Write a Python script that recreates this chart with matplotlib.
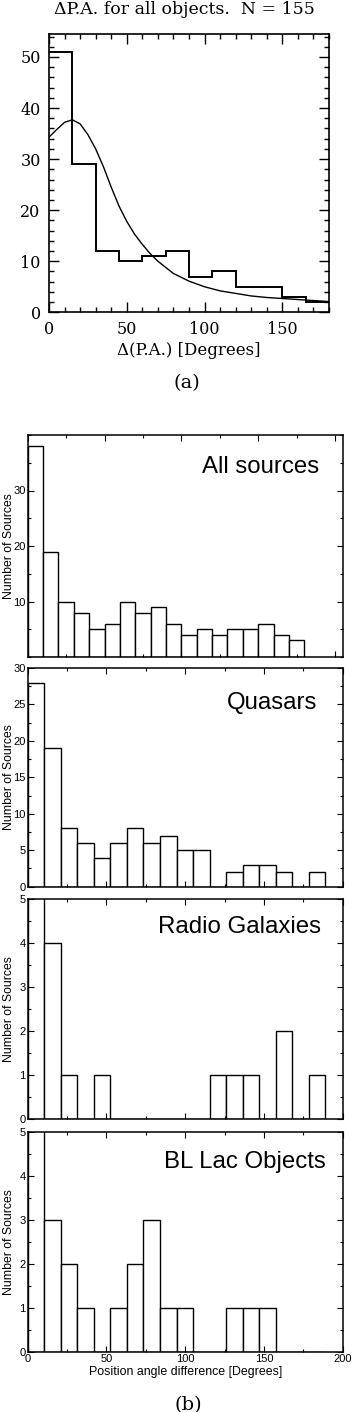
import numpy as np
import matplotlib
matplotlib.use("Agg")
import matplotlib.pyplot as plt
from matplotlib.ticker import MultipleLocator

# ---- panel (a): all objects, 15 degree bins + model curve
pa_edges = [0, 15, 30, 45, 60, 75, 90, 105, 120, 135, 150, 165, 180]
pa_counts = [51, 29, 12, 10, 11, 12, 7, 8, 5, 5, 3, 2]
curve_x = [0, 5, 10, 15, 20, 25, 30, 35, 40, 45, 50, 55, 60, 65, 70,
           80, 90, 100, 110, 120, 130, 140, 150, 160, 170, 180]
curve_y = [34.3, 35.8, 37.2, 37.7, 36.9, 34.8, 32.0, 28.5, 24.5, 20.8, 17.8,
           15.3, 13.3, 11.5, 10.0, 7.6, 6.1, 5.0, 4.2, 3.7, 3.2, 2.9, 2.7,
           2.5, 2.3, 2.1]

# ---- panel (b): number of sources per bin
all_width = 10
all_counts = [38, 19, 10, 8, 5, 6, 10, 8, 9, 6, 4, 5, 4, 5, 5, 6, 4, 3]
class_width = 10.5
quasar_counts = [28, 19, 8, 6, 4, 6, 8, 6, 7, 5, 5, 0, 2, 3, 3, 2, 0, 2]
# first bins of the two small classes run off the top of the plot
radio_counts = [6, 4, 1, 0, 1, 0, 0, 0, 0, 0, 0, 1, 1, 1, 0, 2, 0, 1]
bllac_counts = [6, 3, 2, 1, 0, 1, 2, 3, 1, 1, 0, 0, 1, 1, 1, 0, 0, 0]

W, H = 352, 1412
fig = plt.figure(figsize=(W / 100, H / 100), dpi=100)

serif = "DejaVu Serif"
sans = "Liberation Sans"

# ---------------- panel (a)
axa = fig.add_axes([49 / W, 1 - 312.3 / H, 280 / W, 278.3 / H])
axa.stairs(pa_counts, pa_edges, baseline=None, color="k", lw=1.4)
axa.plot(curve_x, curve_y, color="k", lw=1.0)
axa.set_xlim(0, 180)
axa.set_ylim(0, 54.5)
axa.xaxis.set_major_locator(MultipleLocator(50))
axa.xaxis.set_minor_locator(MultipleLocator(10))
axa.yaxis.set_major_locator(MultipleLocator(10))
axa.yaxis.set_minor_locator(MultipleLocator(2))
axa.tick_params(which="both", direction="in", top=True, right=True, width=1.0)
axa.tick_params(which="major", length=7, labelsize=11.5, pad=6)
axa.tick_params(which="minor", length=3.5)
for lab in axa.get_xticklabels() + axa.get_yticklabels():
    lab.set_family(serif)
for s in axa.spines.values():
    s.set_linewidth(1.2)
axa.set_xlabel("\u0394(P.A.) [Degrees]", family=serif, fontsize=12, labelpad=3)
fig.text(184 / W, 1 - 9 / H, "\u0394P.A. for all objects.  N = 155",
         family=serif, fontsize=12.5, ha="center", va="center")
fig.text(187 / W, 1 - 382.7 / H, "(a)", family=serif, fontsize=14,
         ha="center", va="center")

# ---------------- panel (b)
panels = [
    ("All sources", all_counts, all_width, (435, 657), 40, 205, 10, 5, (0.925, 0.905)),
    ("Quasars", quasar_counts, class_width, (668, 886.7), 30, 200, 5, 2.5, (0.919, 0.892)),
    ("Radio Galaxies", radio_counts, class_width, (899, 1119), 5, 200, 1, 0.5, (0.931, 0.923)),
    ("BL Lac Objects", bllac_counts, class_width, (1131.7, 1352.3), 5, 200, 1, 0.5, (0.945, 0.912)),
]

for i, (name, counts, width, (top, bot), ymax, xmax, ymaj, ymin, tpos) in enumerate(panels):
    ax = fig.add_axes([27.7 / W, 1 - bot / H, 315 / W, (bot - top) / H])
    left = np.arange(len(counts)) * width
    ax.bar(left, counts, width=width, align="edge", facecolor="white",
           edgecolor="k", lw=1.0)
    ax.set_xlim(0, xmax)
    ax.set_ylim(0, ymax)
    ax.xaxis.set_major_locator(MultipleLocator(50))
    ax.xaxis.set_minor_locator(MultipleLocator(25))
    ax.yaxis.set_major_locator(MultipleLocator(ymaj))
    ax.yaxis.set_minor_locator(MultipleLocator(ymin))
    ax.tick_params(which="both", direction="in", top=True, right=True, width=0.8)
    ax.tick_params(which="major", length=4.5, labelsize=8, pad=1.5)
    ax.tick_params(which="minor", length=2.3)
    for s in ax.spines.values():
        s.set_linewidth(1.1)
    if name == "All sources":
        ax.set_yticks([10, 20, 30])
    if i < 3:
        ax.tick_params(labelbottom=False)
    else:
        ax.set_xlabel("Position angle difference [Degrees]", family=sans,
                      fontsize=8.9, labelpad=1)
    for lab in ax.get_xticklabels() + ax.get_yticklabels():
        lab.set_family(sans)
    ax.set_ylabel("Number of Sources", family=sans, fontsize=8.8)
    ax.yaxis.set_label_coords(-0.040, 0.5)
    ax.text(tpos[0], tpos[1], name, transform=ax.transAxes, family=sans,
            fontsize=17.3, ha="right", va="top")

fig.text(188 / W, 1 - 1405 / H, "(b)", family=serif, fontsize=14,
         ha="center", va="center")

fig.savefig("out.png", dpi=100)
